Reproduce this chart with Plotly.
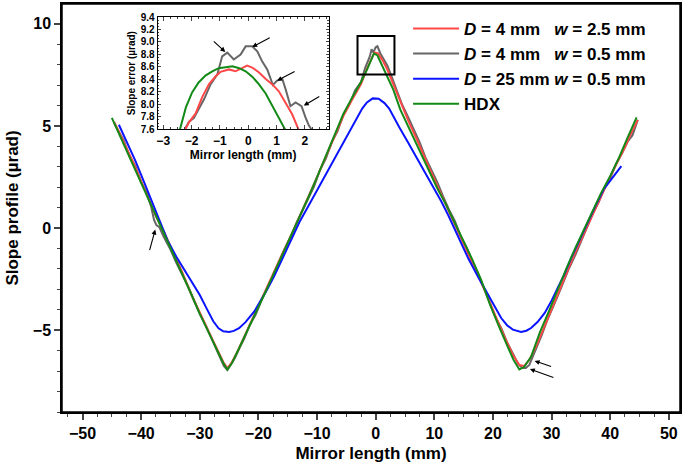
import plotly.graph_objects as go

# ---------------- data ----------------
green_x = [-45.0, -43.5, -42.0, -40.5, -39.0, -37.5, -36.0, -34.5, -33.0, -31.5, -30.0, -28.5, -27.0, -26.0, -25.3,
           -24.5, -23.5, -22.0, -20.5, -19.0, -17.5, -16.0, -14.5, -13.0, -11.5, -10.0, -8.5, -7.0, -5.5, -4.0, -2.5,
           -1.5, -0.8, -0.3, 0.3, 1.0, 2.0, 3.0, 4.2, 5.5, 7.0, 9.0, 10.5, 12.0, 13.5, 15.0, 16.5, 18.0, 19.5, 21.0,
           22.5, 23.5, 24.5, 25.3, 26.5, 28.0, 29.5, 31.0, 32.5, 34.0, 35.5, 37.0, 38.5, 40.0, 41.5, 43.0, 44.0, 44.5]
green_y = [5.40, 4.45, 3.50, 2.55, 1.55, 0.60, -0.30, -1.25, -2.20, -3.20, -4.20, -5.10, -6.00, -6.60, -6.92,
           -6.60, -6.00, -5.10, -4.20, -3.25, -2.30, -1.35, -0.45, 0.50, 1.50, 2.50, 3.55, 4.60, 5.60, 6.40, 7.15,
           7.75, 8.25, 8.55, 8.45, 8.00, 7.35, 6.78, 5.80, 5.00, 4.05, 2.85, 1.95, 1.15, 0.25, -0.60, -1.55, -2.55,
           -3.75, -4.80, -5.80, -6.45, -6.92, -6.80, -6.30, -5.10, -4.10, -3.00, -2.00, -1.00, -0.10, 0.85, 1.75,
           2.55, 3.45, 4.45, 5.15, 5.42]

blue_x = [-43.8, -42.5, -41.0, -39.5, -38.0, -37.0, -35.5, -34.0, -32.8, -31.5, -30.0, -28.8, -27.7, -26.8, -26.0,
          -25.0, -24.2, -23.3, -22.2, -20.7, -19.5, -18.7, -17.3, -15.9, -14.5, -13.0, -11.5, -10.0, -8.5, -7.0,
          -5.5, -4.0, -3.0, -2.3, -1.5, -0.5, 0.5, 1.5, 2.3, 3.0, 4.0, 5.5, 7.0, 8.5, 10.0, 11.2, 12.4, 14.0, 15.8,
          17.5, 19.2, 20.3, 21.4, 22.4, 23.4, 24.8, 25.7, 26.5, 27.6, 28.8, 30.0, 31.0, 32.2, 33.3, 34.7, 36.1,
          37.5, 38.9, 40.4, 41.9]
blue_y = [5.06, 4.25, 3.30, 2.25, 1.15, 0.45, -0.60, -1.40, -1.97, -2.60, -3.27, -3.95, -4.56, -4.90, -5.05,
          -5.08, -5.03, -4.90, -4.60, -4.08, -3.50, -3.10, -2.35, -1.49, -0.60, 0.30, 1.07, 1.85, 2.60, 3.40,
          4.15, 4.95, 5.45, 5.85, 6.15, 6.35, 6.33, 6.12, 5.85, 5.45, 4.95, 4.20, 3.45, 2.70, 1.95, 1.30, 0.62,
          -0.40, -1.49, -2.40, -3.27, -3.85, -4.40, -4.75, -4.97, -5.08, -5.02, -4.89, -4.60, -4.16, -3.55, -2.95,
          -2.25, -1.49, -0.60, 0.29, 1.10, 1.91, 2.50, 3.04]

red_x = [-44.6, -43.0, -41.5, -40.0, -38.5, -37.5, -36.0, -34.5, -33.0, -31.5, -30.0, -28.5, -27.0, -26.0, -25.3,
         -24.6, -23.5, -22.0, -20.5, -19.0, -17.5, -16.0, -14.5, -13.0, -11.5, -10.0, -8.5, -7.0, -5.5, -4.0, -2.5,
         -1.5, -0.8, -0.2, 0.4, 1.2, 2.0, 3.0, 4.2, 5.5, 7.0, 8.5, 10.0, 11.5, 13.0, 14.5, 16.0, 17.5, 19.0, 20.5,
         22.0, 23.5, 24.5, 25.3, 26.2, 27.5, 29.0, 30.5, 32.0, 33.5, 35.0, 36.5, 38.0, 39.5, 41.0, 42.5, 43.5, 44.7]
red_y = [5.20, 4.25, 3.30, 2.30, 1.30, 0.60, -0.25, -1.20, -2.15, -3.20, -4.15, -5.05, -5.95, -6.55, -6.85,
         -6.60, -6.00, -5.05, -4.15, -3.20, -2.25, -1.30, -0.40, 0.55, 1.50, 2.50, 3.50, 4.50, 5.50, 6.30, 7.05,
         7.80, 8.25, 8.60, 8.55, 8.20, 7.75, 7.05, 6.15, 5.30, 4.35, 3.35, 2.40, 1.45, 0.50, -0.45, -1.35, -2.30,
         -3.30, -4.35, -5.35, -6.25, -6.70, -6.75, -6.45, -5.70, -4.65, -3.60, -2.55, -1.55, -0.60, 0.35, 1.30,
         2.20, 3.10, 3.95, 4.60, 5.30]

gray_x = [-44.6, -44.0, -43.0, -42.0, -41.0, -40.0, -39.0, -38.3, -37.8, -37.4, -36.9, -36.2, -35.0, -34.0, -33.0,
          -32.0, -31.0, -30.0, -29.0, -28.0, -27.2, -26.5, -25.9, -25.3, -24.7, -24.0, -23.2, -22.4, -21.5, -20.5,
          -19.5, -18.5, -17.5, -16.5, -15.5, -14.5, -13.5, -12.5, -11.5, -10.5, -9.5, -8.5, -7.5, -6.5, -5.5, -4.5,
          -3.5, -2.5, -1.8, -1.0, -0.7, -0.4, 0.0, 0.3, 0.8, 1.3, 2.0, 2.8, 3.5, 4.5, 5.5, 6.5, 7.5, 8.5, 9.5, 10.5,
          11.5, 12.5, 13.5, 14.5, 15.5, 16.5, 17.5, 18.5, 19.5, 20.5, 21.5, 22.5, 23.5, 24.3, 25.0, 25.6, 26.2,
          26.8, 27.5, 28.3, 29.2, 30.0, 31.0, 32.0, 33.0, 34.0, 35.0, 36.0, 37.0, 38.0, 39.0, 40.0, 41.0, 42.0,
          43.0, 43.8, 44.7]
gray_y = [5.15, 4.85, 4.30, 3.55, 3.05, 2.25, 1.70, 1.05, 0.40, 0.15, 0.05, -0.40, -1.05, -1.70, -2.30, -2.85,
          -3.55, -4.20, -4.75, -5.40, -5.85, -6.35, -6.75, -6.95, -6.70, -6.35, -5.85, -5.40, -4.75, -4.25, -3.55,
          -2.95, -2.30, -1.70, -1.00, -0.45, 0.25, 0.85, 1.50, 2.05, 2.85, 3.40, 4.20, 4.75, 5.55, 6.05, 6.75, 7.15,
          7.85, 8.40, 8.75, 8.60, 8.85, 8.90, 8.55, 8.30, 7.95, 7.35, 6.80, 6.05, 5.45, 4.80, 4.20, 3.45, 2.85,
          2.25, 1.55, 0.90, 0.35, -0.40, -0.95, -1.65, -2.25, -2.95, -3.70, -4.40, -4.95, -5.65, -6.20, -6.65,
          -6.85, -6.85, -6.70, -6.30, -5.75, -5.25, -4.55, -4.05, -3.35, -2.65, -1.95, -1.35, -0.65, 0.05, 0.70,
          1.25, 1.95, 2.45, 3.15, 3.65, 4.25, 4.55, 5.30]

# inset (zoom on the central peak)
in_gray_x = [-2.26, -2.09, -1.92, -1.74, -1.56, -1.33, -1.09, -0.92, -0.74, -0.51, -0.27, -0.09, 0.14, 0.32, 0.49,
             0.67, 0.87, 1.02, 1.20, 1.32, 1.49, 1.67, 1.88, 2.02, 2.14, 2.26]
in_gray_y = [7.58, 7.72, 7.78, 7.92, 8.08, 8.32, 8.48, 8.77, 8.83, 8.72, 8.80, 8.93, 8.93, 8.85, 8.69, 8.56, 8.31,
             8.38, 8.41, 8.24, 7.97, 8.03, 7.97, 7.79, 7.66, 7.58]
in_red_x = [-2.24, -2.09, -1.86, -1.62, -1.39, -1.15, -0.98, -0.68, -0.45, -0.21, -0.04, 0.14, 0.38, 0.61, 0.85,
            1.08, 1.32, 1.55, 1.79]
in_red_y = [7.58, 7.71, 7.85, 8.12, 8.32, 8.45, 8.52, 8.56, 8.53, 8.59, 8.62, 8.59, 8.51, 8.41, 8.32, 8.21, 8.03,
            7.84, 7.58]
in_green_x = [-2.42, -2.20, -1.98, -1.75, -1.51, -1.27, -1.04, -0.80, -0.56, -0.32, -0.09, 0.15, 0.38, 0.62, 0.85,
              1.08, 1.32]
in_green_y = [7.58, 7.95, 8.19, 8.35, 8.46, 8.53, 8.58, 8.60, 8.61, 8.58, 8.53, 8.44, 8.32, 8.17, 7.98, 7.80, 7.58]

x_ticks = [-50, -40, -30, -20, -10, 0, 10, 20, 30, 40, 50]
y_ticks = [-5, 0, 5, 10]
in_x_ticks = [-3, -2, -1, 0, 1, 2]
in_y_ticks = [7.6, 7.8, 8.0, 8.2, 8.4, 8.6, 8.8, 9.0, 9.2, 9.4]

names = ['<i>D</i> = 4 mm&nbsp;&nbsp;&nbsp;<i>w</i> = 2.5 mm',
         '<i>D</i> = 4 mm&nbsp;&nbsp;&nbsp;<i>w</i> = 0.5 mm',
         '<i>D</i> = 25 mm <i>w</i> = 0.5 mm',
         'HDX']

RED = '#ff4848'
GRAY = '#666666'
BLUE = '#0a14ff'
GREEN = '#138a17'
FONT = 'Liberation Sans, Arial, sans-serif'

XR = [-53.5, 51.9]
YR = [-9.0, 10.97]
IXR = [-3.2, 2.84]
IYR = [7.6, 9.4]

fig = go.Figure()
lw = 2
fig.add_trace(go.Scatter(x=gray_x, y=gray_y, mode='lines', line=dict(color=GRAY, width=lw),
                         name=names[1], legendrank=2))
fig.add_trace(go.Scatter(x=red_x, y=red_y, mode='lines', line=dict(color=RED, width=lw),
                         name=names[0], legendrank=1))
fig.add_trace(go.Scatter(x=blue_x, y=blue_y, mode='lines', line=dict(color=BLUE, width=lw),
                         name=names[2], legendrank=3))
fig.add_trace(go.Scatter(x=green_x, y=green_y, mode='lines', line=dict(color=GREEN, width=lw),
                         name=names[3], legendrank=4))

# inset traces
fig.add_trace(go.Scatter(x=in_gray_x, y=in_gray_y, mode='lines', line=dict(color=GRAY, width=2),
                         xaxis='x3', yaxis='y3', showlegend=False))
fig.add_trace(go.Scatter(x=in_red_x, y=in_red_y, mode='lines', line=dict(color=RED, width=2),
                         xaxis='x3', yaxis='y3', showlegend=False))
fig.add_trace(go.Scatter(x=in_green_x, y=in_green_y, mode='lines', line=dict(color=GREEN, width=2),
                         xaxis='x3', yaxis='y3', showlegend=False))

tickfont = dict(family=FONT, size=16, color='black', weight='bold')
titlefont = dict(family=FONT, size=17, color='black', weight='bold')

fig.update_layout(
    width=685, height=466,
    margin=dict(l=62, r=5, t=4, b=54, autoexpand=False),
    paper_bgcolor='white', plot_bgcolor='white',
    font=dict(family=FONT, color='black'),
    showlegend=True,
    legend=dict(x=0.56, y=0.983, xanchor='left', yanchor='top', bgcolor='rgba(0,0,0,0)',
                font=dict(family=FONT, size=17, color='black', weight='bold'),
                itemwidth=46, tracegroupgap=0),
    xaxis=dict(range=XR, tickvals=x_ticks, ticks='outside', ticklen=6, tickwidth=1.5, mirror=True,
               minor=dict(ticks='outside', dtick=2.5, tick0=0, ticklen=3, tickwidth=1.2),
               showline=True, linecolor='black', linewidth=1.5, showgrid=False, zeroline=False,
               tickfont=tickfont, title=dict(text='Mirror length (mm)', font=titlefont, standoff=6)),
    yaxis=dict(range=YR, tickvals=y_ticks, ticks='outside', ticklen=6, tickwidth=1.5, mirror=True,
               minor=dict(ticks='outside', dtick=1, tick0=0, ticklen=3, tickwidth=1.2),
               showline=True, linecolor='black', linewidth=1.5, showgrid=False, zeroline=False,
               tickfont=tickfont, title=dict(text='Slope profile (µrad)', font=titlefont, standoff=10)),
    xaxis3=dict(domain=[0.1546, 0.4316], anchor='y3', range=IXR, tickvals=in_x_ticks, ticks='inside',
                ticklen=4, mirror='allticks', showline=True, linecolor='black', linewidth=1,
                minor=dict(ticks='inside', dtick=0.25, ticklen=2),
                showgrid=False, zeroline=False,
                tickfont=dict(family=FONT, size=12, color='black', weight='bold'),
                title=dict(text='Mirror length (mm)', font=dict(family=FONT, size=12, color='black',
                                                                  weight='bold'), standoff=3)),
    yaxis3=dict(domain=[0.693, 0.968], anchor='x3', range=IYR, tickvals=in_y_ticks, tickformat='.1f',
                ticks='inside', ticklen=3, mirror='allticks', showline=True, linecolor='black', linewidth=1,
                minor=dict(ticks='inside', dtick=0.05, ticklen=1.5),
                showgrid=False, zeroline=False,
                tickfont=dict(family=FONT, size=10, color='black', weight='bold'),
                title=dict(text='Slope error (µrad)', font=dict(family=FONT, size=10, color='black',
                                                                  weight='bold'), standoff=3)),
)

# frame of the main plot area
fig.add_shape(type='rect', xref='paper', yref='paper', x0=0, x1=1, y0=0, y1=1,
              line=dict(color='black', width=1.5), layer='above')

# box marking the zoomed region
fig.add_shape(type='rect', xref='x', yref='y', x0=IXR[0] + 0.1, x1=3.2, y0=IYR[0] - 0.08, y1=IYR[1],
              line=dict(color='black', width=2))

# arrows
def arrow(x, y, ax, ay, xref='x', yref='y'):
    fig.add_annotation(x=x, y=y, xref=xref, yref=yref, ax=ax, ay=ay, text='', showarrow=True,
                       arrowhead=2, arrowsize=0.9, arrowwidth=1.1, arrowcolor='black')

arrow(-37.6, -0.07, -6, 22)
arrow(27.1, -6.5, 18, 6)
arrow(26.3, -6.9, 25, 9)
arrow(-0.81, 8.84, -13, -12, 'x3', 'y3')
arrow(0.14, 8.92, 19, -10, 'x3', 'y3')
arrow(1.02, 8.38, 19, -10, 'x3', 'y3')
arrow(1.96, 7.98, 17, -10, 'x3', 'y3')

fig.write_html('out.html', config={'displayModeBar': False},
               post_script="document.body.style.margin='0';document.body.style.overflow='hidden';"
                           "document.documentElement.style.overflow='hidden';")
